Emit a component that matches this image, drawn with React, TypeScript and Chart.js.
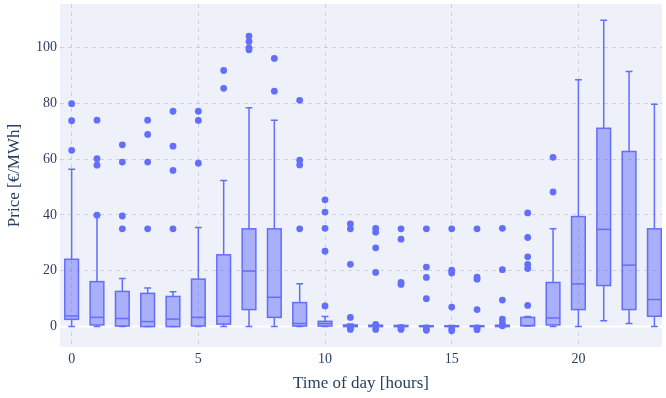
import React, { useEffect, useRef } from "react";
import { Chart, registerables } from "chart.js";

Chart.register(...registerables);

const hours = [0, 1, 2, 3, 4, 5, 6, 7, 8, 9, 10, 11, 12, 13, 14, 15, 16, 17, 18, 19, 20, 21, 22, 23];
const lowerWhisker = [0, 0, 0, 0, 0, 0, 0, 0, 0, 0, 0, 0, 0, 0, 0, 0, 0, 0, 0.2, 0, 0, 2.1, 1.1, 0];
const q1 = [2.6, 0.6, 0.2, 0, 0, 0.2, 0.9, 6.1, 3.3, 0.2, 0.2, 0, 0, 0, 0, 0, 0, 0, 0.3, 0.6, 6.1, 14.7, 6.1, 3.7];
const median = [3.8, 3.3, 2.9, 1.8, 2.7, 3.3, 3.7, 19.9, 10.5, 1.1, 1.1, 0.3, 0.2, 0.1, 0.1, 0.1, 0.1, 0.2, 0.4, 3.1, 15.3, 34.8, 22, 9.7];
const q3 = [24.1, 16.1, 12.6, 11.9, 10.8, 17, 25.7, 35, 35, 8.6, 1.9, 0.6, 0.5, 0.4, 0.3, 0.3, 0.3, 0.5, 3.3, 15.8, 39.4, 71, 62.7, 35];
const upperWhisker = [56.3, 39.9, 17.2, 13.8, 12.5, 35.5, 52.3, 78.4, 73.9, 15.3, 3.6, 0.9, 0.8, 0.5, 0.4, 0.4, 0.4, 0.8, 3.6, 35, 88.4, 109.7, 91.3, 79.6];
const outliers = [
  [63.1, 73.7, 79.8],
  [39.9, 57.8, 60.1, 73.9],
  [35, 39.6, 58.9, 65.1],
  [35, 58.9, 68.8, 73.9],
  [35, 55.9, 64.6, 77.1],
  [58.5, 73.8, 77.1],
  [85.3, 91.7],
  [99.1, 99.8, 102.1, 104],
  [84.3, 96],
  [35, 57.9, 59.6, 81],
  [7.4, 27, 35.2, 41, 45.4],
  [-1, -0.4, 3.3, 22.3, 35, 36.8],
  [-1, 0.8, 19.4, 28.2, 33.8, 35.2],
  [-1, -0.4, 15.1, 15.8, 31.3, 35],
  [-1.3, -0.5, 10, 17.6, 21.3, 35],
  [-1.5, -0.8, 7, 19.2, 20.2, 35],
  [-1.1, -0.5, 6.1, 17, 17.7, 35],
  [0.3, 1.3, 2.7, 9.5, 20.4, 35.2],
  [7.6, 20.8, 22.3, 25, 31.9, 40.7],
  [48.2, 60.6],
  [],
  [],
  [],
  [],
];
const yTicks = [0, 20, 40, 60, 80, 100];
const xTicks = [0, 5, 10, 15, 20];

const BOX_HALF = 0.27;
const LINE = "#636efa";
const FILL = "rgba(99,110,250,0.5)";
const BG = "#eef1f9";
const FONT = "'Liberation Serif', 'DejaVu Serif', serif";
const TEXT = "#2a3f5f";

const boxPlugin = {
  id: "boxPlugin",
  beforeDraw(chart: any) {
    const { ctx, chartArea } = chart;
    ctx.save();
    ctx.fillStyle = BG;
    ctx.fillRect(chartArea.left, chartArea.top, chartArea.right - chartArea.left, chartArea.bottom - chartArea.top);
    ctx.restore();
  },
  beforeDatasetsDraw(chart: any) {
    const { ctx, chartArea } = chart;
    const xs = chart.scales.x;
    const ys = chart.scales.y;
    ctx.save();
    const y0 = ys.getPixelForValue(0);
    ctx.strokeStyle = "#ffffff";
    ctx.lineWidth = 2;
    ctx.beginPath();
    ctx.moveTo(chartArea.left, y0);
    ctx.lineTo(chartArea.right, y0);
    ctx.stroke();

    ctx.lineWidth = 1.5;
    ctx.strokeStyle = LINE;
    hours.forEach((h, i) => {
      const cx = xs.getPixelForValue(h);
      const hw = xs.getPixelForValue(h + BOX_HALF) - cx;
      const cw = hw * 0.5;
      const pq1 = ys.getPixelForValue(q1[i]);
      const pq3 = ys.getPixelForValue(q3[i]);
      const pm = ys.getPixelForValue(median[i]);
      const pl = ys.getPixelForValue(lowerWhisker[i]);
      const pu = ys.getPixelForValue(upperWhisker[i]);
      ctx.beginPath();
      ctx.moveTo(cx, pq3);
      ctx.lineTo(cx, pu);
      ctx.moveTo(cx - cw, pu);
      ctx.lineTo(cx + cw, pu);
      ctx.moveTo(cx, pq1);
      ctx.lineTo(cx, pl);
      ctx.moveTo(cx - cw, pl);
      ctx.lineTo(cx + cw, pl);
      ctx.stroke();
      ctx.fillStyle = FILL;
      ctx.fillRect(cx - hw, pq3, hw * 2, pq1 - pq3);
      ctx.strokeRect(cx - hw, pq3, hw * 2, pq1 - pq3);
      ctx.beginPath();
      ctx.moveTo(cx - hw, pm);
      ctx.lineTo(cx + hw, pm);
      ctx.stroke();
    });
    ctx.restore();
  },
};

export default function App() {
  const ref = useRef<HTMLCanvasElement>(null);
  useEffect(() => {
    document.body.style.margin = "0";
    const points: { x: number; y: number }[] = [];
    hours.forEach((h, i) => outliers[i].forEach((v) => points.push({ x: h, y: v })));
    const chart = new Chart(ref.current as HTMLCanvasElement, {
      type: "scatter",
      data: {
        datasets: [
          {
            data: points,
            backgroundColor: LINE,
            borderWidth: 0,
            pointRadius: 3.4,
          },
        ],
      },
      options: {
        animation: false,
        responsive: false,
        devicePixelRatio: 1,
        layout: { padding: { top: 4, right: 0, left: 0, bottom: 0 } },
        plugins: { legend: { display: false }, tooltip: { enabled: false } },
        scales: {
          x: {
            type: "linear",
            min: -0.46,
            max: 23.3,
            afterBuildTicks: (s: any) => {
              s.ticks = xTicks.map((v) => ({ value: v }));
            },
            afterFit: (s: any) => {
              s.height = 51;
              s.paddingLeft = 0;
              s.paddingRight = 0;
            },
            grid: { color: "rgba(190,196,212,0.7)", drawTicks: false, lineWidth: 1 },
            border: { display: false, dash: [4, 4] },
            ticks: { padding: 4, color: TEXT, font: { family: FONT, size: 14 } },
            title: { display: true, text: "Time of day [hours]", color: TEXT, font: { family: FONT, size: 17 }, padding: { top: 0, bottom: 4 } },
          },
          y: {
            type: "linear",
            min: -7.3,
            max: 115.5,
            afterBuildTicks: (s: any) => {
              s.ticks = yTicks.map((v) => ({ value: v }));
            },
            afterFit: (s: any) => {
              s.width = 60;
              s.paddingTop = 0;
              s.paddingBottom = 0;
            },
            grid: { color: "rgba(190,196,212,0.7)", drawTicks: false, lineWidth: 1 },
            border: { display: false, dash: [4, 4] },
            ticks: { padding: 3, color: TEXT, font: { family: FONT, size: 14 } },
            title: { display: true, text: "Price [€/MWh]", color: TEXT, font: { family: FONT, size: 17 }, padding: { top: 4, bottom: 0 } },
          },
        },
      },
      plugins: [boxPlugin],
    });
    return () => chart.destroy();
  }, []);
  return (
    <div style={{ width: 666, height: 398 }}>
      <canvas ref={ref} width={666} height={398} />
    </div>
  );
}
